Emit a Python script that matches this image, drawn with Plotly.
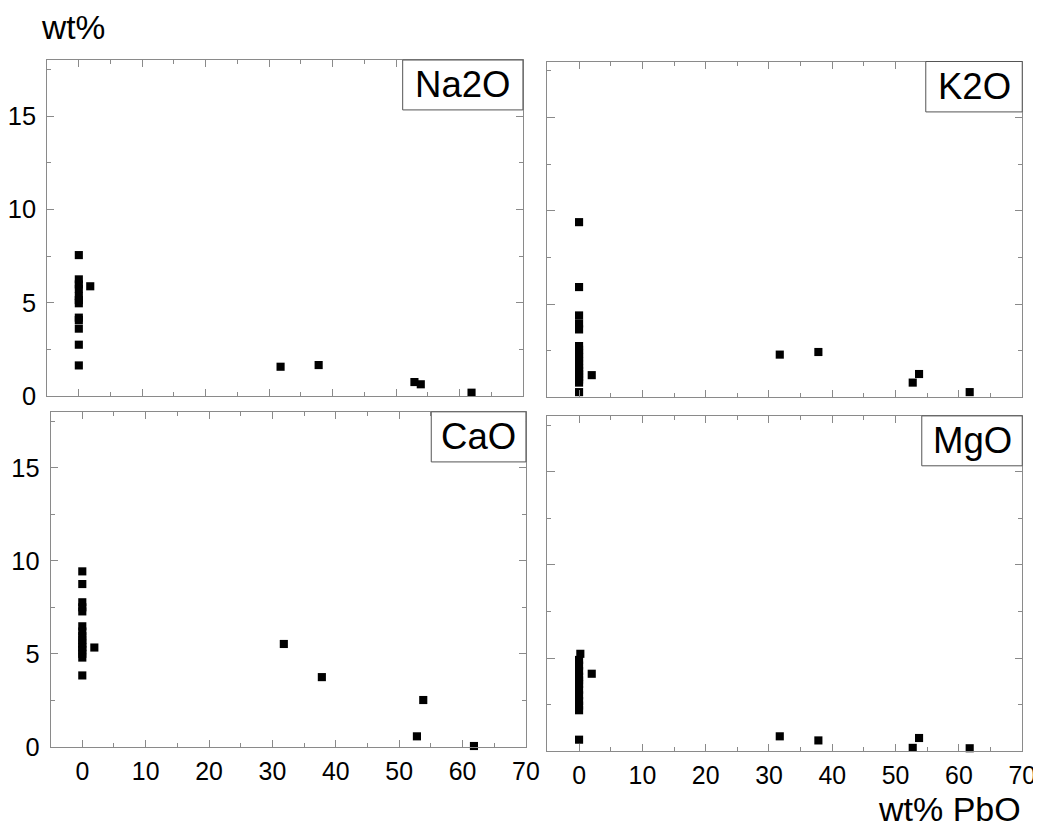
import plotly.graph_objects as go

# ---------------- data ----------------
na_x = [0, 0, 0, 0, 0, 0, 0, 0, 0, 0, 0, 0, 1.8, 31.8, 37.8, 52.9, 53.9, 61.9]
na_y = [7.55, 6.25, 5.98, 5.75, 5.36, 5.14, 4.97, 4.2, 4.07, 3.61, 2.75, 1.64, 5.88, 1.57, 1.66, 0.75, 0.63, 0.18]

k_x = [0, 0, 0, 0, 0, 0, 0, 0, 0, 0, 0, 0, 0, 0, 0, 0, 0, 0, 2.0, 31.7, 37.8, 52.7, 53.7, 61.7]
k_y = [9.39, 5.91, 4.39, 3.96, 3.64, 2.75, 2.55, 2.35, 2.15, 1.95, 1.75, 1.55, 1.4, 1.25, 1.1, 0.95, 0.79, 0.28,
       1.19, 2.29, 2.43, 0.79, 1.25, 0.28]

ca_x = [0, 0, 0, 0, 0, 0, 0, 0, 0, 0, 0, 0, 0, 0, 0, 1.9, 31.8, 37.8, 52.8, 53.8, 61.8]
ca_y = [9.43, 8.75, 7.77, 7.5, 7.28, 6.48, 6.2, 5.95, 5.75, 5.55, 5.36, 5.2, 5.0, 4.8, 3.84,
        5.34, 5.53, 3.75, 0.57, 2.52, 0.05]

mg_x = [0.2, 0, 0, 0, 0, 0, 0, 0, 0, 0, 0, 0, 0, 2.0, 31.7, 37.8, 52.7, 53.7, 61.7]
mg_y = [5.23, 4.9, 4.6, 4.3, 4.0, 3.8, 3.6, 3.3, 3.0, 2.7, 2.45, 2.2, 0.62, 4.16, 0.8, 0.58, 0.18, 0.71, 0.16]

labels = ["Na2O", "K2O", "CaO", "MgO"]
x_range = [-5, 70]
y_range = [0, 18]
x_ticks = [0, 10, 20, 30, 40, 50, 60, 70]
y_ticks = [0, 5, 10, 15]

# ---------------- layout geometry (target picture pixels) ----------------
S = 1 / 0.985               # the capture comes out slightly reduced; compensate
OFF = 8                     # default body margin of the html page
W = 1041
H = 825
FONT = "Liberation Sans, Arial, Helvetica, sans-serif"
panels = [  # left, right, top, bottom
    (45, 521, 60, 396.7),
    (545.5, 1020.5, 61.5, 398),
    (48.5, 524, 412.5, 748.3),
    (545.5, 1020.5, 416.6, 752.6),
]
boxes = [  # left, right, top, bottom of label boxes
    (400.7, 521, 60, 110),
    (924, 1020.5, 61.5, 112),
    (429.3, 524, 412.5, 462.7),
    (920, 1020.5, 416.6, 466.6),
]


def px(x):
    return (x * S - OFF) / W


def py(y):
    return 1 - (y * S - OFF) / H


def sz(v):
    return v * S


series = [(na_x, na_y), (k_x, k_y), (ca_x, ca_y), (mg_x, mg_y)]

fig = go.Figure()
AX = "#8a8a8a"
layout = {}
for i, ((xs, ys), (l, r, t, b)) in enumerate(zip(series, panels)):
    n = "" if i == 0 else str(i + 1)
    fig.add_trace(go.Scatter(
        x=xs, y=ys, mode="markers", xaxis="x" + n, yaxis="y" + n,
        marker=dict(symbol="square", size=sz(8), color="black"),
        showlegend=False, cliponaxis=False))
    show_x = i >= 2
    show_y = i % 2 == 0
    layout["xaxis" + n] = dict(
        domain=[px(l), px(r)], anchor="y" + n, range=x_range,
        tickvals=x_ticks, showticklabels=show_x,
        showline=True, linecolor=AX, linewidth=1, mirror="ticks",
        ticks="inside", ticklen=sz(7), tickcolor=AX, tickwidth=1,
        minor=dict(ticks="inside", ticklen=sz(4), tickcolor=AX, dtick=5, tick0=0),
        showgrid=False, zeroline=False,
        tickfont=dict(family=FONT, size=sz(24.5), color="black"),
        ticklabelstandoff=2,
    )
    layout["yaxis" + n] = dict(
        domain=[py(b), py(t)], anchor="x" + n, range=y_range,
        tickvals=y_ticks, showticklabels=show_y,
        showline=True, linecolor=AX, linewidth=1, mirror="ticks",
        ticks="inside", ticklen=sz(7), tickcolor=AX, tickwidth=1,
        minor=dict(ticks="inside", ticklen=sz(4), tickcolor=AX, dtick=2.5, tick0=0),
        showgrid=False, zeroline=False,
        tickfont=dict(family=FONT, size=sz(25), color="black"),
        ticklabelstandoff=5,
    )

shapes = []
annotations = []
for lab, (l, r, t, b) in zip(labels, boxes):
    shapes.append(dict(type="rect", xref="paper", yref="paper",
                       x0=px(l), x1=px(r), y0=py(b), y1=py(t),
                       line=dict(color="#555555", width=1), fillcolor="white", layer="above"))
    annotations.append(dict(xref="paper", yref="paper", x=px((l + r) / 2), y=py((t + b) / 2),
                            text=lab, showarrow=False, xanchor="center", yanchor="middle",
                            font=dict(family=FONT, size=sz(36), color="black")))

annotations.append(dict(xref="paper", yref="paper", x=px(37), y=py(27), text="wt%",
                        showarrow=False, xanchor="left", yanchor="middle",
                        font=dict(family=FONT, size=sz(33), color="black")))
annotations.append(dict(xref="paper", yref="paper", x=px(1020), y=py(810), text="wt% PbO",
                        showarrow=False, xanchor="right", yanchor="middle", borderpad=0,
                        font=dict(family=FONT, size=sz(33.5), color="black")))

fig.update_layout(
    width=W, height=H, margin=dict(l=0, r=0, t=0, b=0),
    paper_bgcolor="white", plot_bgcolor="white",
    shapes=shapes, annotations=annotations, **layout,
)

fig.write_html("out.html")
